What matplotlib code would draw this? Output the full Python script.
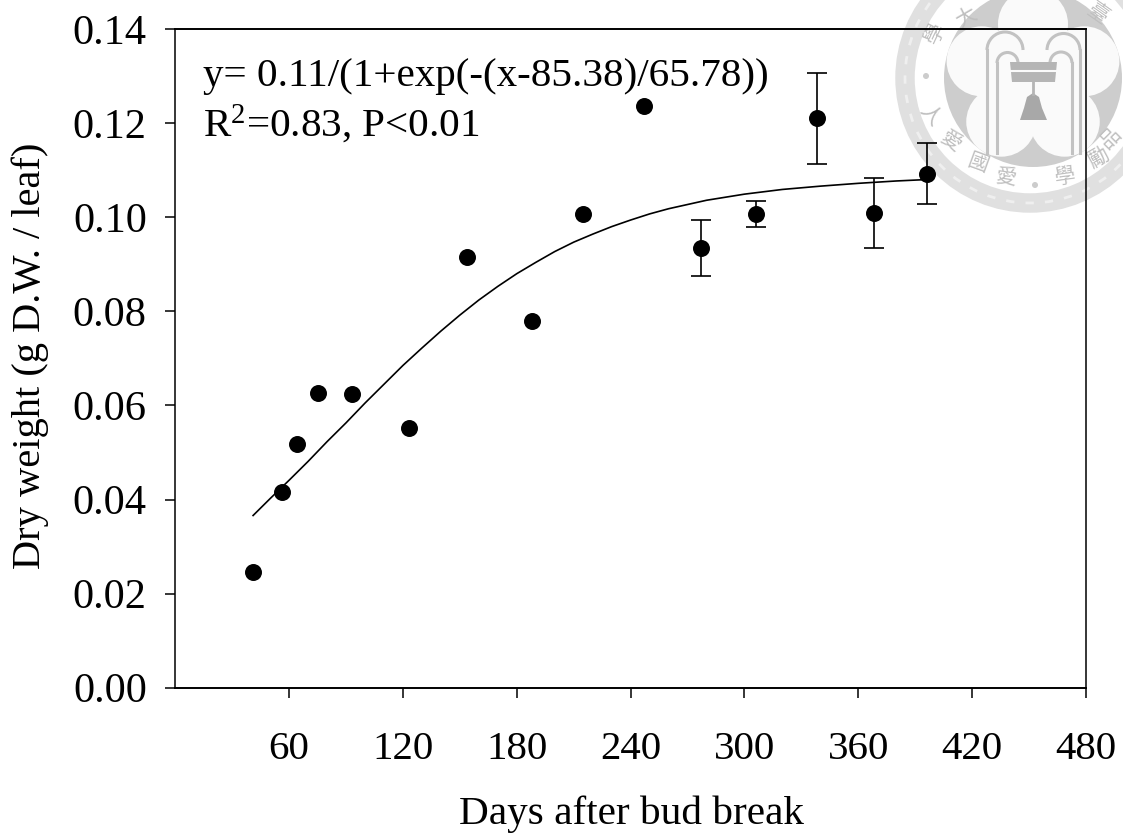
import numpy as np
import matplotlib as mpl
mpl.use('Agg')
import matplotlib.pyplot as plt
from matplotlib.patches import Circle, Arc

plt.rcParams['font.family'] = ['Liberation Serif', 'DejaVu Serif']
plt.rcParams['mathtext.default'] = 'regular'

# values
days = [41, 56, 64, 75, 93, 123, 154, 188, 215, 247, 277, 306, 338, 368, 396]
dry_weight = [0.0246, 0.0416, 0.0518, 0.0627, 0.0624, 0.0552, 0.0915, 0.0780,
              0.1007, 0.1236, 0.0935, 0.1007, 0.1210, 0.1009, 0.1092]
err = [0, 0, 0, 0, 0, 0, 0, 0, 0, 0, 0.0060, 0.0028, 0.0097, 0.0075, 0.0065]

curve_x = [41, 50, 60, 70, 80, 90, 100, 110, 120, 130, 140, 150, 160, 170, 180,
           190, 200, 210, 220, 230, 240, 250, 260, 270, 280, 300, 320, 340, 360, 380, 396]
curve_y = [0.0366, 0.0402, 0.0441, 0.0481, 0.0523, 0.0563, 0.0605, 0.0645, 0.0685,
           0.0722, 0.0758, 0.0792, 0.0824, 0.0853, 0.0880, 0.0904, 0.0927, 0.0947,
           0.0964, 0.0980, 0.0994, 0.1007, 0.1018, 0.1027, 0.1036, 0.1049, 0.1059,
           0.1066, 0.1072, 0.1077, 0.1080]

xticks = [60, 120, 180, 240, 300, 360, 420, 480]
yticks = [0.00, 0.02, 0.04, 0.06, 0.08, 0.10, 0.12, 0.14]

W, H = 1123, 834
fig = plt.figure(figsize=(W / 100, H / 100), dpi=100)

# university seal watermark, in pixel coordinates
seal = fig.add_axes([0, 0, 1, 1], zorder=0)
seal.set_xlim(0, W)
seal.set_ylim(H, 0)
seal.axis('off')
cx, cy = 1030, 78
ring_col = '#e0e0e0'
flower_col = '#cdcdcd'
petal_col = '#fafafa'
line_col = '#c2c2c2'
seal.add_patch(Circle((cx, cy), 125, fill=False, ec=ring_col, lw=14))
seal.add_patch(Circle((cx, cy), 125, fill=False, ec='#efefef', lw=2, ls=(0, (3, 4))))
seal.add_patch(Circle((cx + 3, cy), 89, fc=flower_col, ec='none'))
for ang in [90, 162, 234, 306, 18]:
    px = cx + 3 + 54 * np.cos(np.radians(ang))
    py = cy - 54 * np.sin(np.radians(ang))
    seal.add_patch(Circle((px, py), 35, fc=petal_col, ec='none'))
seal.add_patch(Circle((cx + 3, cy), 32, fc=petal_col, ec='none'))

# fountain arches and bell
for ax0, ay0, w in [(1005, 50, 36), (1007.5, 63, 21), (1063.5, 50, 33), (1061, 63, 22)]:
    seal.add_patch(Arc((ax0, ay0), w, w, theta1=180, theta2=360, ec=line_col, lw=2.2))
for xs, y0 in [(987, 50), (997, 63), (1080, 50), (1072, 63)]:
    seal.plot([xs, xs], [y0, 153], color=line_col, lw=2.2)
seal.fill([1010, 1057, 1055, 1012], [62, 62, 82, 82], color='#b5b5b5', lw=0)
seal.plot([1010, 1057], [71, 71], color=petal_col, lw=1.5)
seal.plot([1033, 1033], [82, 94], color='#b5b5b5', lw=2)
seal.fill([1033, 1027, 1024, 1020, 1047, 1042, 1039], [93, 97, 108, 120, 120, 108, 97],
          color='#a8a8a8', lw=0)

chars = [('學', 935, 33, 65), ('人', 930, 115, -50), ('愛', 951, 142, -35),
         ('國', 978, 163, -20), ('愛', 1006, 178, -8), ('學', 1065, 177, 8),
         ('勵', 1098, 158, 30), ('品', 1110, 138, 45), ('大', 966, 18, 30),
         ('臺', 1098, 13, -35)]
for ch, px, py, rot in chars:
    seal.text(px, py, ch, family=['Noto Sans CJK TC'], fontsize=15, color='#bfbfbf',
              rotation=rot, ha='center', va='center')
for px, py in [(926, 76), (1035, 185)]:
    seal.add_patch(Circle((px, py), 3, fc='#cccccc', ec='none'))

left, right, top, bottom = 175.3, 1086, 29, 687.7
ax = fig.add_axes([left / W, 1 - bottom / H, (right - left) / W, (bottom - top) / H], zorder=1)
ax.patch.set_alpha(0)

ax.plot(curve_x, curve_y, color='k', lw=1.2, zorder=2)
ax.errorbar(days, dry_weight, yerr=[e if e > 0 else np.nan for e in err], fmt='o', color='k', ms=11.2,
            elinewidth=1.2, capsize=7.4, capthick=1.2, zorder=3)

ax.set_xlim(0, 480)
ax.set_ylim(0, 0.14)
ax.set_xticks(xticks)
ax.set_yticks(yticks)
ax.set_yticklabels(['%.2f' % v for v in yticks])
ax.tick_params(axis='both', direction='out', length=7.5, width=1.1, labelsize=30.5)
ax.tick_params(axis='x', labelsize=29.5, pad=24)
ax.tick_params(axis='y', pad=13)
for s in ax.spines.values():
    s.set_linewidth(1.1)
ax.spines['bottom'].set_linewidth(1.4)
ax.spines['top'].set_linewidth(1.4)

fig.text(203 / W, 1 - 86 / H, 'y= 0.11/(1+exp(-(x-85.38)/65.78))', fontsize=29.6,
         va='baseline', ha='left')
fig.text(203 / W, 1 - 136 / H, 'R$^2$=0.83, P<0.01', fontsize=29.6,
         va='baseline', ha='left')

fig.text(631 / W, 1 - 814 / H, 'Days after bud break', fontsize=29.7, ha='center', va='center')
fig.text(30 / W, 1 - 356 / H, 'Dry weight (g D.W. / leaf)', fontsize=29.2, rotation=90,
         ha='center', va='center')

fig.savefig('out.png', dpi=100)
plt.close()
